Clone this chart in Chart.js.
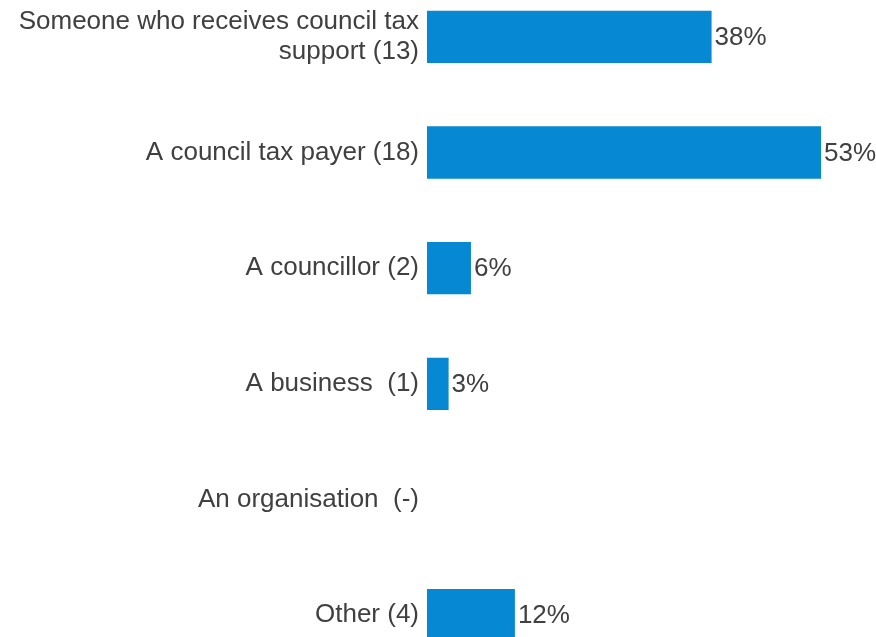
<!DOCTYPE html>
<html>
<head>
<meta charset="utf-8">
<script src="https://cdn.jsdelivr.net/npm/chart.js@4/dist/chart.umd.min.js"></script>
<style>
  html, body { margin: 0; padding: 0; background: #fff; overflow: hidden; }
  #wrap { position: absolute; left: 0; top: -21px; width: 876px; height: 694px; }
</style>
</head>
<body>
<div id="wrap"><canvas id="barChart"></canvas></div>
<script>
// respondent types, share of answers (%) and the label shown at bar end
const categories = [
  ["Someone who receives council tax", "support (13)"],
  "A council tax payer (18)",
  "A councillor (2)",
  "A business  (1)",
  "An organisation  (-)",
  "Other (4)"
];
const values = [38.2, 52.9, 5.9, 2.9, 0, 11.8];
const valueLabels = ["38%", "53%", "6%", "3%", "", "12%"];

const textColor = "#404040";
const barColor = "#0788d2";
const fontFamily = "'Liberation Sans', Arial, sans-serif";

// draws the percent label just right of each bar
const endLabels = {
  id: "endLabels",
  afterDatasetsDraw(chart) {
    const ctx = chart.ctx;
    const meta = chart.getDatasetMeta(0);
    ctx.save();
    ctx.fillStyle = textColor;
    ctx.font = "26px " + fontFamily;
    ctx.textAlign = "left";
    ctx.textBaseline = "middle";
    meta.data.forEach((bar, i) => {
      if (!valueLabels[i]) return;
      ctx.fillText(valueLabels[i], bar.x + 3, bar.y + 1);
    });
    ctx.restore();
  }
};

new Chart(document.getElementById("barChart"), {
  type: "bar",
  data: {
    labels: categories,
    datasets: [{
      data: values,
      backgroundColor: barColor,
      borderWidth: 0,
      categoryPercentage: 1,
      barPercentage: 0.453
    }]
  },
  options: {
    indexAxis: "y",
    responsive: true,
    maintainAspectRatio: false,
    animation: false,
    layout: { padding: { top: 0, bottom: 0, left: 0, right: 2 } },
    plugins: {
      legend: { display: false },
      tooltip: { enabled: false }
    },
    scales: {
      x: {
        display: false,
        min: 0,
        max: 60
      },
      y: {
        grid: { display: false },
        border: { display: false },
        ticks: {
          color: textColor,
          padding: 0,
          font: { family: fontFamily, size: 26, lineHeight: 1.12 }
        },
        afterFit(scale) {
          scale.width = 427;
          scale.paddingTop = 0;
          scale.paddingBottom = 0;
        }
      }
    }
  },
  plugins: [endLabels]
});
</script>
</body>
</html>
